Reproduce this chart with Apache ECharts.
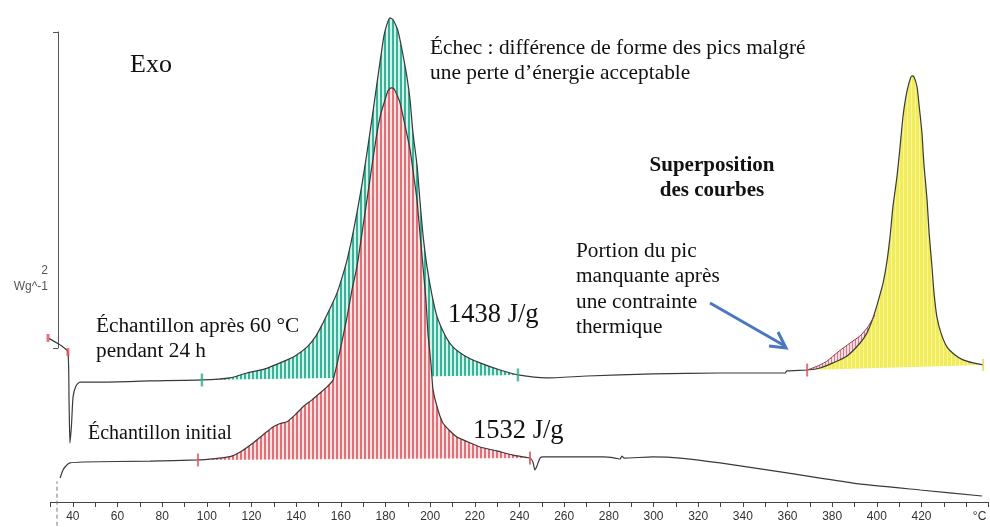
<!DOCTYPE html>
<html><head><meta charset="utf-8">
<script src="https://cdn.jsdelivr.net/npm/echarts@6/dist/echarts.min.js"></script>
<style>html,body{margin:0;padding:0;background:#fff}#c{width:990px;height:527px}</style>
</head><body><div id="c"></div>
<script>
// DSC curves: [temperature °C, heat flow W/g (offset)]
const afterCurve = [
 [28.9,1.038],[34.3,0.994],[37.8,0.949],[38.3,0.646],[38.7,0.373],[39.4,0.487],[40.1,0.665],[41.4,0.734],[43.2,0.759],
 [52.2,0.759],[74.6,0.766],[97.8,0.772],[110.4,0.785],[118.0,0.816],[126.0,0.842],[132.8,0.880],[139.5,0.924],[144.9,0.981],
 [148.9,1.051],[152.0,1.133],[155.1,1.222],[158.3,1.323],[160.5,1.418],[162.8,1.532],[165.0,1.671],[167.2,1.829],[169.5,2.013],
 [171.7,2.209],[174.0,2.430],[176.2,2.652],[178.0,2.829],[179.3,2.949],[180.7,3.025],[182.0,3.063],[183.4,3.051],[184.7,3.013],
 [185.6,2.981],[187.4,2.861],[189.6,2.690],[191.0,2.544],[192.3,2.335],[194.1,2.133],[195.4,1.911],[196.8,1.690],[198.6,1.487],
 [200.8,1.310],[203.1,1.171],[206.6,1.057],[210.2,0.981],[215.6,0.924],[222.3,0.880],[231.3,0.835],[239.3,0.804],[252.3,0.785],
 [270.2,0.797],[299.8,0.810],[329.8,0.816],[358.9,0.816],[359.8,0.829],[368.8,0.835],[374.6,0.848],[380.4,0.880],[386.7,0.924],
 [392.5,1.006],[395.6,1.070],[398.3,1.165],[400.5,1.266],[402.8,1.386],[404.5,1.519],[405.9,1.677],[407.2,1.867],[409.0,2.057],
 [410.4,2.247],[411.7,2.437],[413.0,2.563],[414.4,2.652],[415.7,2.696],[416.6,2.690],[418.0,2.627],[418.9,2.513],[420.2,2.335],
 [421.1,2.133],[422.5,1.911],[423.4,1.703],[424.7,1.487],[425.6,1.323],[426.9,1.171],[428.7,1.070],[431.4,0.981],[435.0,0.930],
 [438.6,0.899],[443.1,0.880],[447.6,0.867]
];
const initialCurve = [
 [34.3,0.152],[35.6,0.203],[36.9,0.228],[38.7,0.247],[44.6,0.253],[74.6,0.259],[96.0,0.266],[103.7,0.275],[110.4,0.287],
 [115.7,0.323],[120.7,0.373],[125.1,0.424],[129.6,0.475],[132.8,0.497],[135.9,0.508],[139.5,0.551],[143.1,0.603],[147.1,0.646],
 [150.7,0.690],[153.8,0.728],[156.5,0.772],[159.7,0.962],[162.8,1.171],[165.0,1.342],[167.2,1.487],[169.5,1.703],[171.7,1.911],
 [174.0,2.133],[176.2,2.335],[178.0,2.462],[179.8,2.544],[181.1,2.601],[182.5,2.620],[183.8,2.614],[185.1,2.576],[186.5,2.525],
 [188.7,2.386],[191.0,2.228],[192.7,2.057],[194.1,1.911],[195.4,1.703],[196.8,1.487],[198.1,1.278],[199.0,1.070],[200.4,0.867],
 [201.3,0.709],[203.5,0.582],[205.7,0.500],[208.9,0.449],[212.0,0.411],[216.9,0.380],[222.3,0.348],[229.9,0.323],[237.1,0.297],
 [244.7,0.278],[246.0,0.253],[246.9,0.203],[247.8,0.228],[249.2,0.278],[250.5,0.285],[277.4,0.285],[282.8,0.278],[285.0,0.272],
 [285.9,0.291],[286.8,0.278],[299.8,0.285],[311.9,0.278],[329.8,0.247],[359.8,0.184],[389.4,0.120],[419.4,0.076],[447.1,0.038]
];
const initialOverlay = [
 [368.8,0.835],[374.6,0.867],[377.7,0.892],[382.6,0.949],[388.0,1.006],[392.5,1.051],[396.0,1.108],[399.2,1.184]
];
const greenLimits = [97.8, 239.3];
const redLimits = [96.0, 244.7];
const yellowLimits = [368.8, 447.6];
const tickValues = [30,40,50,60,70,80,90,100,110,120,130,140,150,160,170,180,190,200,210,220,230,240,250,260,270,280,290,300,310,320,330,340,350,360,370,380,390,400,410,420,430,440,450];
const labelValues = [40,60,80,100,120,140,160,180,200,220,240,260,280,300,320,340,360,380,400,420,446];
const unitLabelValue = 446;

function hatch(line, gap, period, lw){
  const c = document.createElement('canvas'); c.width = period; c.height = 8;
  const g = c.getContext('2d'); g.fillStyle = gap; g.fillRect(0,0,period,8);
  g.fillStyle = line; g.fillRect(0,0,lw,8);
  return {image: c, repeat: 'repeat'};
}
function between(curve, lo, hi){ return curve.filter(p => p[0] >= lo - 1e-9 && p[0] <= hi + 1e-9); }
function polySeries(pts, fill, z){
  return {type:'custom', coordinateSystem:'cartesian2d', xAxisIndex:0, yAxisIndex:0, silent:true, z:z,
    data:[pts[0]],
    renderItem:(params, api) => ({type:'polygon', shape:{points: pts.map(p => api.coord(p))}, style:{fill: fill, stroke: null}})};
}
const greenPoly = between(afterCurve, greenLimits[0], greenLimits[1]);
const redPoly = between(initialCurve, redLimits[0], redLimits[1]);
const yellowPoly = between(afterCurve, yellowLimits[0], yellowLimits[1]);
const pinkPoly = initialOverlay.concat(between(afterCurve, initialOverlay[0][0], initialOverlay[initialOverlay.length-1][0]).reverse());

const serif = '"Liberation Serif","Times New Roman",serif';
const chart = echarts.init(document.getElementById('c'), null, {renderer:'canvas'});
function txt(x, y, text, size, opts){
  return Object.assign({type:'text', x:x, y:y, silent:true, z:10,
    style:Object.assign({text:text, fontSize:size, fontFamily:serif, fill:'#111', align:'left', verticalAlign:'middle'}, opts||{})});
}
chart.setOption({
  animation:false,
  grid:[{left:50.5, top:12, width:938, height:490}, {left:58, top:32, width:10, height:316}],
  xAxis:[{type:'value', gridIndex:0, min:30, max:450,
    axisLine:{show:true, lineStyle:{color:'#444', width:1}},
    axisTick:{show:true, length:5, customValues:tickValues, lineStyle:{color:'#444'}},
    axisLabel:{show:true, customValues:labelValues, color:'#333', fontSize:12, margin:9, fontFamily:'"Liberation Sans",Arial,sans-serif',
      formatter:v => v === unitLabelValue ? '°C' : String(v)},
    splitLine:{show:false}},
    {type:'value', gridIndex:1, show:false, min:0, max:1}],
  yAxis:[{type:'value', gridIndex:0, show:false, min:0, max:3.1},
    {type:'value', gridIndex:1, min:0, max:2, interval:2, position:'left',
      axisLine:{show:true, lineStyle:{color:'#555', width:1}},
      axisTick:{show:true, length:5, lineStyle:{color:'#555'}},
      axisLabel:{show:false}, splitLine:{show:false}}],
  series:[
    polySeries(greenPoly, hatch('#36b398', '#d3f0e9', 4, 2), 1),
    polySeries(redPoly, hatch('#e36f79', '#fbe4e4', 4, 2), 2),
    polySeries(yellowPoly, hatch('#f1ec5c', '#f8f59e', 4, 3), 1),
    polySeries(pinkPoly, hatch('#d97a8c', '#f6dde2', 3, 1), 2),
    {type:'line', data:afterCurve, showSymbol:false, clip:false, z:5, smooth:0.2,
      lineStyle:{color:'#3a3a3a', width:1.2}},
    {type:'line', data:initialCurve, showSymbol:false, clip:false, z:5, smooth:0.2,
      lineStyle:{color:'#3a3a3a', width:1.2}},
    {type:'line', data:initialOverlay, showSymbol:false, clip:false, z:5, smooth:0.2,
      lineStyle:{color:'#8a4050', width:1}},
    {type:'line', data:[[32.9,-0.15],[32.9,0.13]], showSymbol:false, clip:false, z:5,
      lineStyle:{color:'#777', width:1, type:[4,3]}},
    {type:'scatter', clip:false, z:6, symbol:'rect', symbolSize:[2.5,13], itemStyle:{color:'#2fae94'},
      data:[[greenLimits[0],0.772],[greenLimits[1],0.804]]},
    {type:'scatter', clip:false, z:6, symbol:'rect', symbolSize:[2,13], itemStyle:{color:'#e0505a'},
      data:[[redLimits[0],0.266],[redLimits[1],0.278],[yellowLimits[0],0.835]]},
    {type:'scatter', clip:false, z:6, symbol:'rect', symbolSize:[2,12], itemStyle:{color:'#e6d84a'},
      data:[[yellowLimits[1],0.867]]},
    {type:'scatter', clip:false, z:6, symbol:'rect', symbolSize:[3,8], itemStyle:{color:'#e05060'},
      data:[[28.9,1.038],[37.8,0.949]]}
  ],
  graphic:[
    txt(130, 65, 'Exo', 26),
    txt(430, 48, 'Échec : différence de forme des pics malgré', 21.4),
    txt(430, 73, 'une perte d’énergie acceptable', 21.4),
    txt(712, 166, 'Superposition', 21, {align:'center', fontWeight:'bold'}),
    txt(712, 191, 'des courbes', 21, {align:'center', fontWeight:'bold'}),
    txt(576, 251, 'Portion du pic', 21.3),
    txt(576, 276, 'manquante après', 21.3),
    txt(576, 302, 'une contrainte', 21.3),
    txt(576, 327, 'thermique', 21.3),
    txt(448, 315, '1438 J/g', 26.5),
    txt(473, 431, '1532 J/g', 26.5),
    txt(96, 326, 'Échantillon après 60 °C', 21.3),
    txt(96, 351, 'pendant 24 h', 21.3),
    txt(88, 434, 'Échantillon initial', 20),
    txt(48, 271, '2', 12, {align:'right', fontFamily:'"Liberation Sans",Arial,sans-serif', fill:'#555'}),
    txt(48, 287, 'Wg^-1', 12, {align:'right', fontFamily:'"Liberation Sans",Arial,sans-serif', fill:'#555'}),
    {type:'line', silent:true, z:10, shape:{x1:710, y1:303, x2:785, y2:346}, style:{stroke:'#4a78c0', lineWidth:3}},
    {type:'polyline', silent:true, z:10, shape:{points:[[769,346],[786,348],[778,332]]}, style:{stroke:'#4a78c0', lineWidth:3, fill:null}}
  ]
});
</script></body></html>
